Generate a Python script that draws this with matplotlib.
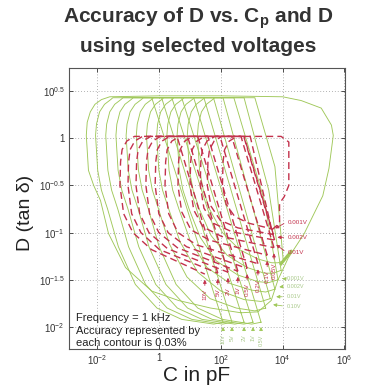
import matplotlib
matplotlib.use("Agg")
import matplotlib.pyplot as plt
import numpy as np

plt.rcParams['font.family'] = ['Liberation Sans', 'DejaVu Sans']
plt.rcParams['mathtext.fontset'] = 'custom'
plt.rcParams['mathtext.rm'] = 'Liberation Sans'
plt.rcParams['mathtext.it'] = 'Liberation Sans:italic'
plt.rcParams['mathtext.bf'] = 'Liberation Sans:bold'

# contour lines, in decades: log10(C/pF), log10(D)
green_logC = [
    [2.65, 1.67, 0.63, -0.24, -1.09, -1.64, -1.90, -2.12, -2.29, -2.36, -2.33, -2.23, -2.08, -1.87, -1.60,
     0.0, 2.0, 4.0, 4.60, 5.25, 5.58, 5.64, 5.50, 5.30, 4.70, 4.18, 3.85, 3.63, 3.20, 2.65],
    [2.07, -0.24, -1.50, -1.57, -1.77, -1.93, -2.03, -2.06, -1.99, -1.87, -1.67, -1.32, -0.77, -0.07, 0.73, 1.77, 2.07],
    [2.36, 0.08, -1.17, -1.24, -1.44, -1.60, -1.70, -1.73, -1.66, -1.54, -1.34, -0.99, -0.44, 0.26, 1.06, 2.06, 2.36],
    [2.75, 0.41, -0.84, -0.91, -1.11, -1.27, -1.37, -1.40, -1.33, -1.21, -1.01, -0.66, -0.11, 0.59, 1.39, 2.45, 2.75],
    [3.04, 0.73, -0.51, -0.58, -0.78, -0.94, -1.04, -1.07, -1.00, -0.88, -0.68, -0.33, 0.22, 0.92, 1.72, 2.74, 3.04],
    [3.30, 1.12, -0.18, -0.25, -0.45, -0.61, -0.71, -0.74, -0.67, -0.55, -0.35, 0.00, 0.55, 1.25, 2.05, 3.00, 3.30],
    [3.45, 1.45, 0.15, 0.08, -0.12, -0.28, -0.38, -0.41, -0.34, -0.22, -0.02, 0.33, 0.90, 1.65, 2.50, 3.10, 3.45],
    [3.60, 1.76, 0.48, 0.41, 0.21, 0.05, -0.05, -0.08, -0.01, 0.11, 0.31, 0.68, 1.25, 2.00, 2.75, 3.30, 3.60],
    [3.75, 2.07, 0.81, 0.74, 0.54, 0.38, 0.28, 0.25, 0.32, 0.44, 0.64, 1.00, 1.55, 2.30, 3.00, 3.45, 3.75],
    [3.85, 3.40, 2.42, 1.14, 1.07, 0.87, 0.71, 0.61, 0.58, 0.65, 0.77, 0.97, 1.33, 1.85, 2.55, 3.20, 3.55, 3.85],
    [3.95, 3.55, 2.75, 1.47, 1.40, 1.20, 1.04, 0.94, 0.91, 0.98, 1.10, 1.30, 1.68, 2.20, 2.85, 3.40, 3.70, 3.95],
    [4.02, 3.75, 3.10, 1.80, 1.73, 1.53, 1.37, 1.27, 1.24, 1.31, 1.43, 1.63, 2.05, 2.60, 3.20, 3.65, 3.85, 4.02],
    [3.95, 4.10, 4.28],
]
green_logD = [
    [-1.85, -1.80, -1.72, -1.62, -1.37, -1.01, -0.66, -0.50, -0.34, 0.03, 0.17, 0.28, 0.36, 0.41, 0.44,
     0.45, 0.45, 0.44, 0.40, 0.32, 0.14, 0.03, -0.32, -0.61, -1.01, -1.27, -1.50, -1.72, -1.84, -1.85],
    [-1.95, 0.43, 0.43, 0.41, 0.36, 0.28, 0.15, 0.03, -0.34, -0.55, -0.75, -1.15, -1.55, -1.80, -1.92, -1.97, -1.95],
    [-1.95, 0.43, 0.43, 0.41, 0.36, 0.28, 0.15, 0.03, -0.34, -0.55, -0.75, -1.15, -1.55, -1.80, -1.92, -1.97, -1.95],
    [-1.95, 0.43, 0.43, 0.41, 0.36, 0.28, 0.15, 0.03, -0.34, -0.55, -0.75, -1.15, -1.55, -1.80, -1.92, -1.97, -1.95],
    [-1.95, 0.43, 0.43, 0.41, 0.36, 0.28, 0.15, 0.03, -0.34, -0.55, -0.75, -1.15, -1.55, -1.80, -1.92, -1.97, -1.95],
    [-1.95, 0.43, 0.43, 0.41, 0.36, 0.28, 0.15, 0.03, -0.34, -0.55, -0.75, -1.15, -1.55, -1.80, -1.92, -1.97, -1.95],
    [-1.80, 0.43, 0.43, 0.41, 0.36, 0.28, 0.15, 0.03, -0.34, -0.55, -0.75, -1.12, -1.47, -1.70, -1.80, -1.83, -1.80],
    [-1.70, 0.43, 0.43, 0.41, 0.36, 0.28, 0.15, 0.03, -0.34, -0.55, -0.75, -1.10, -1.42, -1.62, -1.71, -1.73, -1.70],
    [-1.60, 0.43, 0.43, 0.41, 0.36, 0.28, 0.15, 0.03, -0.34, -0.55, -0.75, -1.08, -1.37, -1.54, -1.61, -1.63, -1.60],
    [-1.50, -0.65, 0.43, 0.43, 0.41, 0.36, 0.28, 0.15, 0.03, -0.34, -0.55, -0.75, -1.05, -1.30, -1.45, -1.52, -1.53, -1.50],
    [-1.40, -0.55, 0.43, 0.43, 0.41, 0.36, 0.28, 0.15, 0.03, -0.34, -0.55, -0.75, -1.03, -1.24, -1.37, -1.43, -1.43, -1.40],
    [-1.30, -0.30, 0.43, 0.43, 0.41, 0.36, 0.28, 0.15, 0.03, -0.34, -0.55, -0.75, -1.00, -1.18, -1.28, -1.32, -1.32, -1.30],
    [-1.33, -1.27, -1.20],
]

red_logC = [
    [3.65, 3.90, 3.90, 4.05, 4.20, 4.20, 3.95, -0.80, -1.05, -1.20, -1.25, -1.27, -1.15, -0.85, -0.25, 1.48],
    [1.90, 0.58, -0.54, -0.79, -0.94, -0.99, -1.01, -0.89, -0.59, 0.01, 1.90],
    [2.23, 0.92, -0.28, -0.53, -0.68, -0.73, -0.75, -0.63, -0.33, 0.27, 2.23],
    [2.55, 1.25, 0.04, -0.21, -0.36, -0.41, -0.43, -0.31, -0.01, 0.59, 2.55],
    [2.85, 1.58, 0.34, 0.09, -0.06, -0.11, -0.13, -0.01, 0.29, 0.89, 2.85],
    [3.20, 1.97, 0.66, 0.41, 0.26, 0.21, 0.19, 0.31, 0.61, 1.21, 3.20],
    [3.50, 2.35, 1.08, 0.83, 0.68, 0.63, 0.61, 0.73, 1.03, 1.63, 3.50],
    [3.72, 2.65, 1.47, 1.22, 1.07, 1.02, 1.00, 1.12, 1.42, 2.02, 3.72],
    [3.74, 2.74, 1.80, 1.55, 1.40, 1.35, 1.33, 1.45, 1.75, 2.35, 3.74],
    [3.70, 2.75, 2.03, 1.78, 1.63, 1.58, 1.56, 1.68, 1.98, 2.55, 3.70],
    [3.64, 2.95, 2.52, 2.27, 2.12, 2.07, 2.05, 2.17, 2.45, 2.90, 3.64],
]
red_logD = [
    [-0.97, -0.90, -0.69, -0.62, -0.50, -0.04, 0.02, 0.02, -0.03, -0.12, -0.25, -0.50, -0.80, -1.00, -1.18, -1.44],
    [-1.43, 0.02, 0.02, -0.03, -0.12, -0.25, -0.50, -0.80, -1.00, -1.18, -1.43],
    [-1.42, 0.02, 0.02, -0.03, -0.12, -0.25, -0.50, -0.80, -1.00, -1.17, -1.42],
    [-1.41, 0.02, 0.02, -0.03, -0.12, -0.25, -0.50, -0.80, -1.00, -1.16, -1.41],
    [-1.38, 0.02, 0.02, -0.03, -0.12, -0.25, -0.50, -0.80, -1.00, -1.15, -1.38],
    [-1.33, 0.02, 0.02, -0.03, -0.12, -0.25, -0.50, -0.80, -1.00, -1.13, -1.33],
    [-1.24, 0.02, 0.02, -0.03, -0.12, -0.25, -0.50, -0.78, -0.97, -1.08, -1.24],
    [-1.16, 0.02, 0.02, -0.03, -0.12, -0.25, -0.50, -0.76, -0.94, -1.04, -1.16],
    [-1.08, 0.02, 0.02, -0.03, -0.12, -0.25, -0.50, -0.74, -0.90, -0.99, -1.08],
    [-1.02, 0.02, 0.02, -0.03, -0.12, -0.25, -0.50, -0.72, -0.87, -0.95, -1.02],
    [-0.96, 0.02, 0.02, -0.03, -0.12, -0.25, -0.50, -0.70, -0.83, -0.90, -0.96],
]

# voltage labels with the arrow tips they point to
red_bottom_labels = ["10V", "5V", "2V", "1V", "0.5V", "0.2V", "0.1V", "0.05V"]
red_bottom_tipC = [1.48, 1.90, 2.23, 2.55, 2.85, 3.20, 3.50, 3.72]
red_bottom_tipD = [-1.47, -1.46, -1.45, -1.44, -1.41, -1.36, -1.27, -1.19]
red_side_labels = ["0.001V", "0.002V", "0.01V"]
red_side_tipC = [3.68, 3.74, 3.72]
red_side_tipD = [-0.97, -1.05, -1.11]
red_side_textD = [-0.89, -1.05, -1.21]

green_bottom_labels = ["10V", "5V", "2V", "1V", "0.5V"]
green_bottom_tipC = [2.07, 2.36, 2.75, 3.04, 3.30]
green_side_labels = ["0.001V", "0.002V", "0.01V", "0.10V"]
green_side_tipC = [3.90, 3.80, 3.70, 3.60]
green_side_tipD = [-1.48, -1.58, -1.68, -1.76]
green_side_textD = [-1.49, -1.57, -1.68, -1.78]

xticks = [1e-2, 1, 1e2, 1e4, 1e6]
xticklabels = ['$10^{-2}$', '1', '$10^{2}$', '$10^{4}$', '$10^{6}$']
yticks_log = [-2, -1.5, -1, -0.5, 0, 0.5]
yticklabels = ['$10^{-2}$', '$10^{-1.5}$', '$10^{-1}$', '$10^{-0.5}$', '1', '$10^{0.5}$']

green = '#a0c85a'
red = '#c3324c'

fig = plt.figure(figsize=(3.68, 3.92), dpi=100)
ax = fig.add_axes([0.1875, 0.1097, 0.75, 0.7168])

for c, d in zip(green_logC, green_logD):
    ax.plot(10 ** np.array(c), 10 ** np.array(d), color=green, lw=0.65)
ax.plot(10 ** np.array(green_logC[-1]), 10 ** np.array(green_logD[-1]), color=green, lw=2.2)

for c, d in zip(red_logC, red_logD):
    ax.plot(10 ** np.array(c), 10 ** np.array(d), color=red, lw=1.0, dashes=(5, 3))

arr = dict(arrowstyle='-|>', lw=0.6, mutation_scale=5)
for lab, c, d in zip(red_bottom_labels, red_bottom_tipC, red_bottom_tipD):
    ax.annotate('', xy=(10 ** c, 10 ** d), xytext=(10 ** c, 10 ** (d - 0.12)),
                arrowprops=dict(arr, color=red))
    ax.text(10 ** c, 10 ** (d - 0.13), lab, rotation=90, ha='center', va='top',
            fontsize=4.5, color=red)
for lab, c, d, t in zip(red_side_labels, red_side_tipC, red_side_tipD, red_side_textD):
    ax.annotate('', xy=(10 ** c, 10 ** d), xytext=(10 ** 4.12, 10 ** t),
                arrowprops=dict(arr, color=red))
    ax.text(10 ** 4.15, 10 ** t, lab, ha='left', va='center', fontsize=4.5, color=red)

for lab, c in zip(green_bottom_labels, green_bottom_tipC):
    ax.annotate('', xy=(10 ** c, 10 ** -1.97), xytext=(10 ** c, 10 ** -2.07),
                arrowprops=dict(arr, color=green))
    ax.text(10 ** c, 10 ** -2.08, lab, rotation=90, ha='center', va='top',
            fontsize=4, color='#a9c98a')
for lab, c, d, t in zip(green_side_labels, green_side_tipC, green_side_tipD, green_side_textD):
    ax.annotate('', xy=(10 ** c, 10 ** d), xytext=(10 ** 4.08, 10 ** t),
                arrowprops=dict(arr, color=green))
    ax.text(10 ** 4.12, 10 ** t, lab, ha='left', va='center', fontsize=4, color='#a9c98a')

ax.set_xscale('log')
ax.set_yscale('log')
ax.set_xlim(10 ** -2.92, 10 ** 6.02)
ax.set_ylim(10 ** -2.234, 10 ** 0.745)
ax.set_xticks(xticks)
ax.set_xticklabels(xticklabels)
ax.set_yticks([10 ** v for v in yticks_log])
ax.set_yticklabels(yticklabels)
ax.minorticks_off()
ax.tick_params(direction='in', length=3, width=0.6, top=True, right=True,
               labelsize=7, colors='#333333', pad=3)
ax.grid(True, color='#9a9a9a', lw=0.6, ls=(0, (1, 2.5)))
for s in ax.spines.values():
    s.set_color('#555555')
    s.set_linewidth(0.8)

ax.text(0.025, 0.11, 'Frequency = 1 kHz', transform=ax.transAxes, fontsize=8, va='center', color='#222222')
ax.text(0.025, 0.064, 'Accuracy represented by', transform=ax.transAxes, fontsize=8, va='center', color='#222222')
ax.text(0.025, 0.021, 'each contour is 0.03%', transform=ax.transAxes, fontsize=8, va='center', color='#222222')

fig.text(0.538, 0.954, 'Accuracy of D vs. C$_\\mathbf{p}$ and D', ha='center', va='center',
         fontsize=15, fontweight='bold', color='#333333')
fig.text(0.538, 0.882, 'using selected voltages', ha='center', va='center',
         fontsize=15, fontweight='bold', color='#333333')
fig.text(0.535, 0.043, 'C in pF', ha='center', va='center', fontsize=15, color='#222222')
fig.text(0.068, 0.457, 'D (tan δ)', ha='center', va='center', rotation=90, fontsize=14, color='#222222')

fig.savefig('out.png', dpi=100)
